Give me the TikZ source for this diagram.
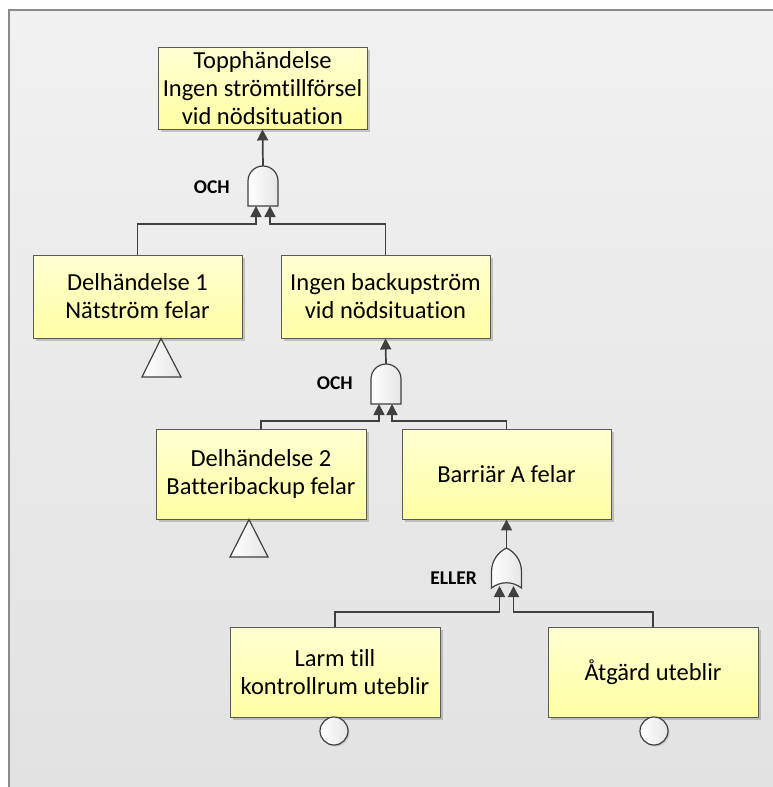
\documentclass[tikz,border=0pt]{standalone}
\usepackage{fontspec}
\setmainfont{Carlito}[Ligatures={NoCommon}]
\usetikzlibrary{arrows.meta,shadows}

\definecolor{linegray}{HTML}{404040}
\definecolor{boxedge}{HTML}{5A5A5A}
\definecolor{evtop}{HTML}{FFFFD2}
\definecolor{evbot}{HTML}{FFFFA4}
\definecolor{bgtop}{HTML}{F1F1F1}
\definecolor{bgbot}{HTML}{E2E2E2}
\definecolor{framegray}{HTML}{8A8A8A}

\tikzset{
  evt/.style={rectangle, draw=boxedge, line width=0.9pt, top color=evtop, bottom color=evbot,
    inner sep=0pt, align=center, font=\fontsize{24.5}{28}\selectfont,
    drop shadow={shadow xshift=2.5pt, shadow yshift=-2.5pt, fill=black, opacity=0.18}},
  conn/.style={draw=linegray, line width=1.7pt, -{Triangle[length=11pt,width=11pt]}},
  gatelbl/.style={font=\fontsize{19.5}{21}\selectfont\bfseries, anchor=east, inner sep=0pt},
  symb/.style={draw=linegray, line width=1.2pt, left color=white, right color=black!10},
  andgate/.pic={
    \path[symb] (-15,40) -- (-15,15) .. controls (-15,6.7) and (-8.3,0) .. (0,0)
      .. controls (8.3,0) and (15,6.7) .. (15,15) -- (15,40) -- cycle;
  },
  orgate/.pic={
    \path[symb] (-15,40) .. controls (-6,33) and (6,33) .. (15,40) -- (15,24)
      .. controls (15,12) and (8,4) .. (0,0) .. controls (-8,4) and (-15,12) .. (-15,24) -- cycle;
  }
}

\begin{document}
\begin{tikzpicture}[x=1pt,y=-1pt]
\useasboundingbox (0,0) rectangle (773,787);
% page background and frame
\fill[white] (0,0) rectangle (773,787);
\shade[top color=bgtop, bottom color=bgbot] (9,10) rectangle (773,787);
\draw[framegray, line width=2pt] (8.5,787) -- (8.5,9.5) -- (773,9.5);

% events
\node[evt, minimum width=209pt, minimum height=82pt] (top) at (262.5,88)
  {Topphändelse\\Ingen strömtillförsel\\vid nödsituation};
\node[evt, minimum width=209pt, minimum height=83pt] (d1) at (137.5,296.5)
  {Delhändelse 1\\Nätström felar};
\node[evt, minimum width=209pt, minimum height=83pt] (ib) at (385.5,296.5)
  {Ingen backupström\\vid nödsituation};
\node[evt, minimum width=210pt, minimum height=90pt] (d2) at (261,474)
  {Delhändelse 2\\Batteribackup felar};
\node[evt, minimum width=209pt, minimum height=90pt] (ba) at (506.5,474)
  {Barriär A felar};
\node[evt, minimum width=210pt, minimum height=90pt] (larm) at (335,672)
  {Larm till\\kontrollrum uteblir};
\node[evt, minimum width=210pt, minimum height=90pt] (atg) at (653,672)
  {Åtgärd uteblir};

% gates
\pic at (263,166) {andgate};
\pic at (386,364) {andgate};
\pic at (506.5,548) {orgate};
\node[gatelbl] (l1) at (230,187) {OCH};
\node[gatelbl] (l2) at (353,383) {OCH};
\node[gatelbl] (l3) at (477,578) {ELLER};

% gate ports
\coordinate (g1out) at (263,166);
\coordinate (g1a) at (256,224); \coordinate (g1ai) at (256,206);
\coordinate (g1b) at (270,224); \coordinate (g1bi) at (270,206);
\coordinate (g2out) at (386,364);
\coordinate (g2a) at (379,421); \coordinate (g2ai) at (379,404);
\coordinate (g2b) at (392,421); \coordinate (g2bi) at (392,404);
\coordinate (g3out) at (506.5,548);
\coordinate (g3a) at (499.5,612); \coordinate (g3ai) at (499.5,586);
\coordinate (g3b) at (513.5,612); \coordinate (g3bi) at (513.5,586);

% connectors
\draw[conn] (g1out) -- (top.south);
\draw[conn] (d1.north) |- (g1a) -- (g1ai);
\draw[conn] (ib.north) |- (g1b) -- (g1bi);
\draw[conn] (g2out) -- (ib.south);
\draw[conn] (d2.north) |- (g2a) -- (g2ai);
\draw[conn] (ba.north) |- (g2b) -- (g2bi);
\draw[conn] (g3out) -- (ba.south);
\draw[conn] (larm.north) |- (g3a) -- (g3ai);
\draw[conn] (atg.north) |- (g3b) -- (g3bi);

% transfer triangles
\path[symb] (161,338.5) -- (181,377) -- (142,377) -- cycle;
\path[symb] (249,519.5) -- (268,557) -- (230,557) -- cycle;

% basic event circles
\node[circle, symb, minimum size=28pt, inner sep=0pt,
  drop shadow={shadow xshift=1.5pt, shadow yshift=-1.5pt, fill=black, opacity=0.12}] (c1) at (334,731) {};
\node[circle, symb, minimum size=28pt, inner sep=0pt,
  drop shadow={shadow xshift=1.5pt, shadow yshift=-1.5pt, fill=black, opacity=0.12}] (c2) at (654,731) {};
\end{tikzpicture}
\end{document}
